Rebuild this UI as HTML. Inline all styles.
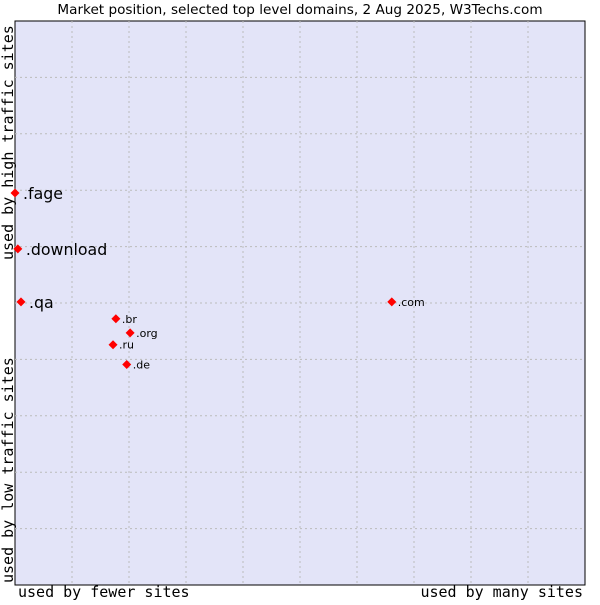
<!DOCTYPE html>
<html><head><meta charset="utf-8"><style>
body{margin:0;background:#fff;width:600px;height:600px;overflow:hidden}
text{font-family:"DejaVu Sans","Liberation Sans",sans-serif}
.mono{font-family:"DejaVu Sans Mono","Liberation Mono",monospace;font-size:15px}
</style></head><body>
<svg id="chart" width="600" height="600">
<text x="300" y="14" text-anchor="middle" font-size="13.6">Market position, selected top level domains, 2 Aug 2025, W3Techs.com</text>
<rect x="15" y="21" width="570" height="564" fill="#e3e4f8" stroke="#000" stroke-width="1"/>
<g id="grid"></g>
<g id="points"></g>
<text class="mono" x="18" y="597">used by fewer sites</text>
<text class="mono" x="583" y="597" text-anchor="end">used by many sites</text>
<text class="mono" transform="translate(13,583) rotate(-90)">used by low traffic sites</text>
<text class="mono" transform="translate(13,260) rotate(-90)">used by high traffic sites</text>
</svg>
<script>
const labels=[".fage",".download",".qa",".com",".br",".org",".ru",".de"];
const xValues=[0,0.5,1.05,66.1,17.7,20.2,17.2,19.6];
const yValues=[69.5,59.6,50.2,50.2,47.2,44.7,42.6,39.1];
const bigLabel=[true,true,true,false,false,false,false,false];
const L=15,T=21,W=570,H=564;
const sx=v=>L+v/100*W, sy=v=>T+H-v/100*H;
const ns="http://www.w3.org/2000/svg";
const grid=document.getElementById('grid');
for(let i=1;i<10;i++){
  const lv=document.createElementNS(ns,'line');
  
  
  lv.setAttribute('x1',sx(i*10));lv.setAttribute('x2',sx(i*10));lv.setAttribute('y1',T);lv.setAttribute('y2',T+H);
  lv.setAttribute('stroke','#bbb');lv.setAttribute('stroke-dasharray','2,3');
  grid.appendChild(lv);
  const lh=document.createElementNS(ns,'line');
  
  
  lh.setAttribute('y1',sy(i*10));lh.setAttribute('y2',sy(i*10));lh.setAttribute('x1',L);lh.setAttribute('x2',L+W);
  lh.setAttribute('stroke','#bbb');lh.setAttribute('stroke-dasharray','2,3');
  grid.appendChild(lh);
}
const pts=document.getElementById('points');
labels.forEach((lab,i)=>{
  const x=sx(xValues[i]),y=sy(yValues[i]);
  const d=document.createElementNS(ns,'polygon');
  
  
  d.setAttribute('points',`${x},${y-4.5} ${x+4.5},${y} ${x},${y+4.5} ${x-4.5},${y}`);
  d.setAttribute('fill','#f00');
  pts.appendChild(d);
  const t=document.createElementNS(ns,'text');
  
  
  t.setAttribute('x',x+(bigLabel[i]?8:6));
  t.setAttribute('y',y+(bigLabel[i]?6:4));
  t.setAttribute('font-size',bigLabel[i]?'15.8':'11');
  t.textContent=lab;
  pts.appendChild(t);
});
</script>
</body></html>
